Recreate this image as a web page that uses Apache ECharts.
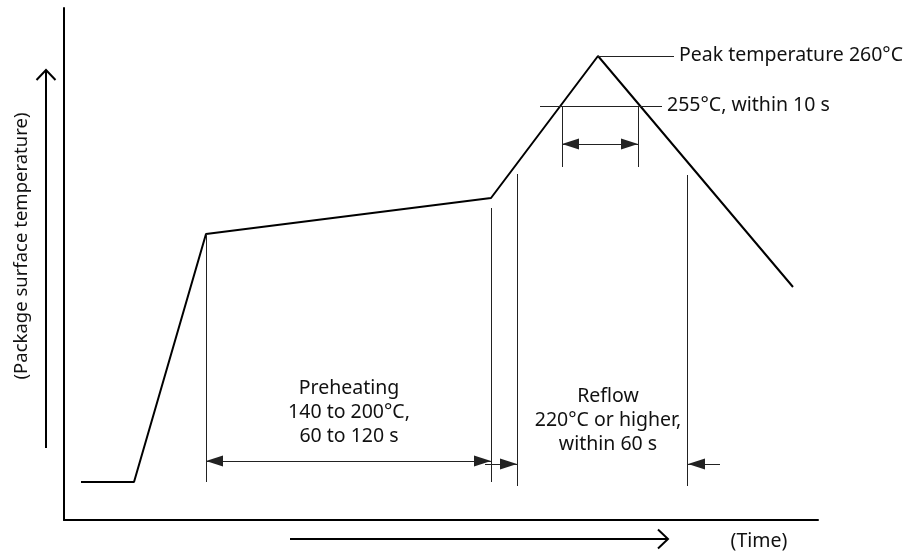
<!DOCTYPE html>
<html>
<head>
<meta charset="utf-8">
<script src="https://cdn.jsdelivr.net/npm/echarts@6/dist/echarts.min.js"></script>
<style>
html,body{margin:0;padding:0;background:#fff;}
#chart{width:911px;height:552px;}
</style>
</head>
<body>
<div id="chart"></div>
<script>
// Schematic coordinates (time units along x, temperature units along y; not to scale)
const profileTime = [17, 70, 142, 427, 534, 729];
const profileTemp = [38, 38, 286, 322, 464, 233];

// Guide (extension) lines: [x1, y1, x2, y2]
const guideLines = [
  [142, 286, 142, 38],
  [427, 312, 427, 38],
  [453, 346, 453, 34],
  [623, 345, 623, 34],
  [498, 414, 498, 353],
  [574, 414, 574, 353],
  [476, 414, 598, 414],
  [534, 464, 610, 464]
];
// Dimension arrows: [x1, y1, x2, y2, startArrow, endArrow]
const dimArrows = [
  [498, 376, 574, 376, true, true],
  [142, 59, 427, 59, true, true],
  [421, 56, 453, 56, false, true],
  [656, 56, 624, 56, false, true]
];
// Annotation texts: [x, y, text, align, rotated]
const annotations = [
  [615, 465, 'Peak temperature 260°C', 'left', false],
  [603, 415, '255°C, within 10 s', 'left', false],
  [285, 108, 'Preheating\n140 to 200°C,\n60 to 120 s', 'center', false],
  [544, 100, 'Reflow\n220°C or higher,\nwithin 60 s', 'center', false],
  [695, -21, '(Time)', 'center', false],
  [-42, 274, '(Package surface temperature)', 'center', true]
];
// Direction arrows outside the frame: [x1, y1, x2, y2]
const axisArrows = [
  [-18, 72, -18, 450],
  [226, -19, 604, -19]
];

const FONT = 'Noto Sans';
const chart = echarts.init(document.getElementById('chart'));

const profileData = profileTime.map((t, i) => [t, profileTemp[i]]);
const markData = [];
guideLines.forEach(g => {
  markData.push([{coord: [g[0], g[1]], symbol: 'none'}, {coord: [g[2], g[3]], symbol: 'none'}]);
});
dimArrows.forEach(a => {
  markData.push([
    {coord: [a[0], a[1]], symbol: a[4] ? 'triangle' : 'none'},
    {coord: [a[2], a[3]], symbol: a[5] ? 'triangle' : 'none'}
  ]);
});

chart.setOption({
  animation: false,
  grid: {left: 64, top: 8, right: 93, bottom: 32, outerBoundsMode: 'none', containLabel: false},
  xAxis: {
    type: 'value', min: 0, max: 754,
    axisLine: {show: true, onZero: false, lineStyle: {color: '#000', width: 2}},
    axisTick: {show: false}, axisLabel: {show: false}, splitLine: {show: false}
  },
  yAxis: {
    type: 'value', min: 0, max: 512,
    axisLine: {show: true, onZero: false, lineStyle: {color: '#000', width: 2}},
    axisTick: {show: false}, axisLabel: {show: false}, splitLine: {show: false}
  },
  series: [{
    type: 'line',
    data: profileData,
    symbol: 'none',
    lineStyle: {color: '#000', width: 2},
    markLine: {
      silent: true,
      symbolSize: [11, 17],
      symbolOffset: [[0, 8.5], [0, 8.5]],
      label: {show: false},
      lineStyle: {color: '#222', width: 1, type: 'solid'},
      emphasis: {disabled: true},
      data: markData
    }
  }]
});

function px(x, y) { return chart.convertToPixel({gridIndex: 0}, [x, y]); }
const graphics = [];
annotations.forEach(a => {
  const p = px(a[0], a[1]);
  graphics.push({
    type: 'text', x: p[0], y: p[1], rotation: a[4] ? Math.PI / 2 : 0,
    style: {
      text: a[2], fill: '#111', font: (a[4] ? '18.5px "' : '19.5px "') + FONT + '"',
      align: a[3], verticalAlign: 'middle', lineHeight: 24
    }
  });
});
axisArrows.forEach(a => {
  const p1 = px(a[0], a[1]);
  const p2 = px(a[2], a[3]);
  const dx = p2[0] - p1[0], dy = p2[1] - p1[1];
  const len = Math.sqrt(dx * dx + dy * dy);
  const ux = dx / len, uy = dy / len;
  const head = 10, half = 9.5;
  graphics.push({
    type: 'line', shape: {x1: p1[0], y1: p1[1], x2: p2[0], y2: p2[1]},
    style: {stroke: '#000', lineWidth: 2}
  });
  graphics.push({
    type: 'polyline',
    shape: {points: [
      [p2[0] - ux * head - uy * half, p2[1] - uy * head + ux * half],
      [p2[0], p2[1]],
      [p2[0] - ux * head + uy * half, p2[1] - uy * head - ux * half]
    ]},
    style: {stroke: '#000', lineWidth: 2, fill: null}
  });
});
chart.setOption({graphic: graphics});
</script>
</body>
</html>
